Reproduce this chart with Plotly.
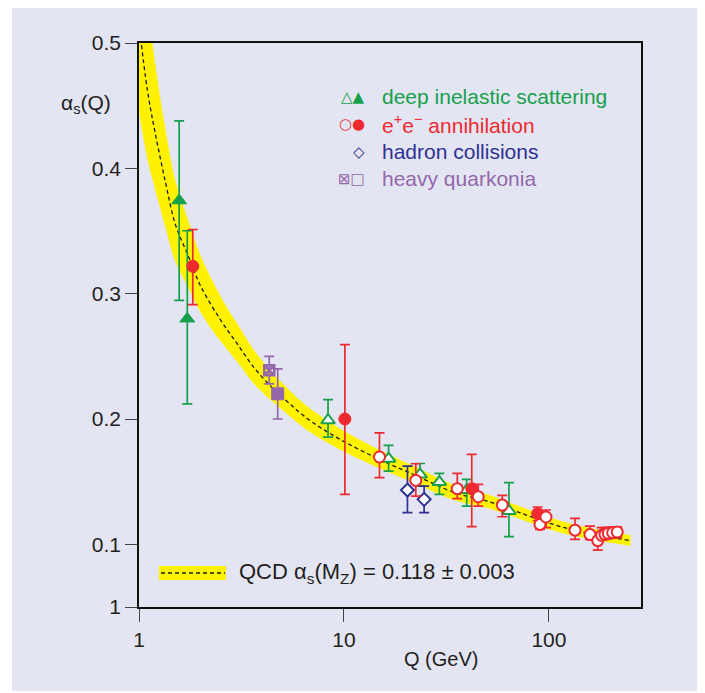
import plotly.graph_objects as go

# ---------------- data ----------------
# QCD running coupling curve and band
curve_q = [1.0, 1.1, 1.2, 1.35, 1.5, 1.75, 2.0, 2.5, 3.0, 3.6, 4.4, 5.2, 6.0, 7.0, 10, 15, 22, 35, 50, 72, 105, 150, 250]
curve_mid = [0.515, 0.462, 0.428, 0.388, 0.356, 0.329, 0.306, 0.279, 0.2605, 0.242, 0.226, 0.215, 0.206, 0.1975,
             0.182, 0.1675, 0.1555, 0.141, 0.1345, 0.1253, 0.1159, 0.1093, 0.103]
curve_hi = [0.615, 0.532, 0.483, 0.430, 0.391, 0.357, 0.330, 0.298, 0.2765, 0.256, 0.238, 0.226, 0.216, 0.207,
            0.1905, 0.175, 0.1623, 0.147, 0.14, 0.1303, 0.1207, 0.1138, 0.1072]
curve_lo = [0.445, 0.407, 0.383, 0.352, 0.326, 0.304, 0.285, 0.262, 0.246, 0.229, 0.215, 0.205, 0.1965, 0.1885,
            0.174, 0.1605, 0.149, 0.135, 0.129, 0.1203, 0.1111, 0.1048, 0.0988]

# deep inelastic scattering, filled triangles
dis_f_q = [1.57, 1.72]
dis_f_a = [0.3743, 0.280]
dis_f_hi = [0.4378, 0.3502]
dis_f_lo = [0.2947, 0.2121]

# deep inelastic scattering, open triangles
dis_o_q = [8.36, 16.5, 23.5, 29.2, 39.7, 63.8]
dis_o_a = [0.199, 0.1683, 0.1558, 0.1497, 0.1433, 0.1266]
dis_o_hi = [0.2155, 0.1789, 0.1645, 0.1566, 0.1518, 0.1492]
dis_o_lo = [0.1855, 0.1584, 0.1465, 0.1398, 0.1305, 0.1062]

# e+e- annihilation, filled circles
ee_f_q = [1.83, 10.1, 42.0, 88.1]
ee_f_a = [0.3218, 0.200, 0.1444, 0.1245]
ee_f_hi = [0.3512, 0.2594, 0.1717, 0.1298]
ee_f_lo = [0.2912, 0.1398, 0.1141, 0.119]

# e+e- annihilation, open circles
ee_o_q = [14.9, 22.4, 35.7, 45.2, 59.2, 90.4, 96.7, 134, 158.5, 173, 180.7, 187.6, 194.6, 204.6, 215.3]
ee_o_a = [0.1697, 0.151, 0.1444, 0.138, 0.1313, 0.1159, 0.1218, 0.1113, 0.1078, 0.103, 0.1072, 0.108, 0.1088,
          0.1093, 0.1098]
ee_o_hi = [0.189, 0.1643, 0.1566, 0.1478, 0.139, 0.119, 0.1274, 0.1207, 0.1146, 0.1093, 0.1133, 0.1133, 0.1135,
           0.1138, 0.114]
ee_o_lo = [0.1532, 0.1385, 0.1364, 0.1305, 0.122, 0.112, 0.1133, 0.104, 0.104, 0.0954, 0.104, 0.104, 0.1045,
           0.105, 0.1055]

# hadron collisions, open diamonds
had_q = [20.4, 24.6]
had_a = [0.1433, 0.1359]
had_hi = [0.1624, 0.1465]
had_lo = [0.1253, 0.1253]

# heavy quarkonia
hq_x_q = [4.32]
hq_x_a = [0.2389]
hq_x_hi = [0.250]
hq_x_lo = [0.228]
hq_s_q = [4.75]
hq_s_a = [0.2201]
hq_s_hi = [0.240]
hq_s_lo = [0.200]

x_tickvals = [1, 10, 100]
x_ticktext = ["1", "10", "100"]
y_tickvals = [0.05, 0.1, 0.2, 0.3, 0.4, 0.5]
y_ticktext = ["1", "0.1", "0.2", "0.3", "0.4", "0.5"]

legend_rows = [
    ("△▲", "deep inelastic scattering", "#17a04c"),
    ("○●", "e<sup>+</sup>e<sup>−</sup> annihilation", "#ee2a30"),
    ("◇", "hadron collisions", "#2e3192"),
    ("⊠□", "heavy quarkonia", "#9467ab"),
]

# ---------------- style ----------------
GREEN = "#17a04c"
RED = "#ee2a30"
BLUE = "#2e3192"
PURPLE = "#9467ab"
YELLOW = "#fff200"
BG = "#e3e5f2"
TXT = "#231f20"
FONT = "Liberation Sans, Arial, sans-serif"

# page body has an 8px margin, so the figure is offset by 8px
OFF = 8
W, H = 705 - OFF, 693 - OFF
L, T = 139 - OFF, 43 - OFF
PW, PH = 502, 564
R, B = W - L - PW, H - T - PH


def px(xp):
    return (xp - 139) / PW


def py(yp):
    return (607 - yp) / PH


def errs(a, hi, lo):
    return [h - v for h, v in zip(hi, a)], [v - l for v, l in zip(a, lo)]


fig = go.Figure()

# band
fig.add_trace(go.Scatter(x=curve_q, y=curve_lo, mode="lines", line=dict(width=0, color=YELLOW, shape="spline"),
                         hoverinfo="skip", showlegend=False))
fig.add_trace(go.Scatter(x=curve_q, y=curve_hi, mode="lines", line=dict(width=0, color=YELLOW, shape="spline"),
                         fill="tonexty", fillcolor=YELLOW, hoverinfo="skip", showlegend=False))
fig.add_trace(go.Scatter(x=curve_q, y=curve_mid, mode="lines",
                         line=dict(width=1.3, color="#1a1a1a", dash="4px,3px", shape="spline"),
                         hoverinfo="skip", showlegend=False))


def add_series(q, a, hi, lo, color, symbol, fill, size, lw=2):
    up, dn = errs(a, hi, lo)
    fig.add_trace(go.Scatter(
        x=q, y=a, mode="markers",
        marker=dict(symbol=symbol, size=size, color=fill, line=dict(color=color, width=lw)),
        error_y=dict(type="data", symmetric=False, array=up, arrayminus=dn, color=color, thickness=1.7, width=5),
        showlegend=False))


add_series(dis_f_q, dis_f_a, dis_f_hi, dis_f_lo, GREEN, "triangle-up", GREEN, 13, 1)
add_series(dis_o_q, dis_o_a, dis_o_hi, dis_o_lo, GREEN, "triangle-up", "white", 12, 2)
add_series(had_q, had_a, had_hi, had_lo, BLUE, "diamond", "white", 10, 2)
add_series(ee_f_q, ee_f_a, ee_f_hi, ee_f_lo, RED, "circle", RED, 12, 1)
add_series(ee_o_q, ee_o_a, ee_o_hi, ee_o_lo, RED, "circle", "white", 11, 2)
add_series(hq_x_q, hq_x_a, hq_x_hi, hq_x_lo, PURPLE, "square-x-open", PURPLE, 10, 2.5)
add_series(hq_s_q, hq_s_a, hq_s_hi, hq_s_lo, PURPLE, "square", PURPLE, 12, 1)

# background panel and legend decorations
shapes = [
    dict(type="rect", xref="paper", yref="paper", x0=px(12), x1=px(697), y0=py(691), y1=py(5),
         fillcolor=BG, line=dict(width=0), layer="below"),
    dict(type="rect", xref="paper", yref="paper", x0=px(159), x1=px(226), y0=py(580), y1=py(566),
         fillcolor=YELLOW, line=dict(width=0), layer="above"),
    dict(type="line", xref="paper", yref="paper", x0=px(161), x1=px(225), y0=py(573), y1=py(573),
         line=dict(color="#1a1a1a", width=1.3, dash="4px,3px"), layer="above"),
]

annotations = []
row_y = [97, 124.5, 151.5, 178.5]
for (sym, label, col), yy in zip(legend_rows, row_y):
    annotations.append(dict(xref="paper", yref="paper", x=px(367), y=py(yy), xanchor="right", yanchor="middle",
                            text=sym, showarrow=False, font=dict(family="DejaVu Sans", size=15, color=col)))
    annotations.append(dict(xref="paper", yref="paper", x=px(380), y=py(yy), xanchor="left", yanchor="middle",
                            text=label, showarrow=False, font=dict(family=FONT, size=21, color=col)))

annotations.append(dict(xref="paper", yref="paper", x=px(237), y=py(573), xanchor="left", yanchor="middle",
                        text="QCD α<sub>s</sub>(M<sub>Z</sub>) = 0.118 ± 0.003", showarrow=False,
                        font=dict(family=FONT, size=22, color=TXT)))
annotations.append(dict(xref="paper", yref="paper", x=px(86), y=py(104), xanchor="center", yanchor="middle",
                        text="α<sub>s</sub>(Q)", showarrow=False, font=dict(family=FONT, size=21, color=TXT)))
annotations.append(dict(xref="paper", yref="paper", x=px(441), y=py(659), xanchor="center", yanchor="middle",
                        text="Q (GeV)", showarrow=False, font=dict(family=FONT, size=20, color=TXT)))

fig.update_layout(
    width=W, height=H,
    margin=dict(l=L, r=R, t=T, b=B, pad=0),
    paper_bgcolor="white",
    plot_bgcolor="rgba(0,0,0,0)",
    shapes=shapes,
    annotations=annotations,
    showlegend=False,
    font=dict(family=FONT, color=TXT),
)
fig.update_xaxes(type="log", range=[0, 2.449], tickvals=x_tickvals, ticktext=x_ticktext,
                 showgrid=False, zeroline=False, showline=True, linecolor="#111", linewidth=1.6, mirror=True,
                 ticks="outside", ticklen=13, tickwidth=1.3, tickcolor="#444",
                 tickfont=dict(size=21, color=TXT, family=FONT))
fig.update_yaxes(range=[0.05, 0.5], tickvals=y_tickvals, ticktext=y_ticktext,
                 showgrid=False, zeroline=False, showline=True, linecolor="#111", linewidth=1.6, mirror=True,
                 ticks="outside", ticklen=12, tickwidth=1.3, tickcolor="#444",
                 tickfont=dict(size=21, color=TXT, family=FONT))

fig.write_html("out.html")
